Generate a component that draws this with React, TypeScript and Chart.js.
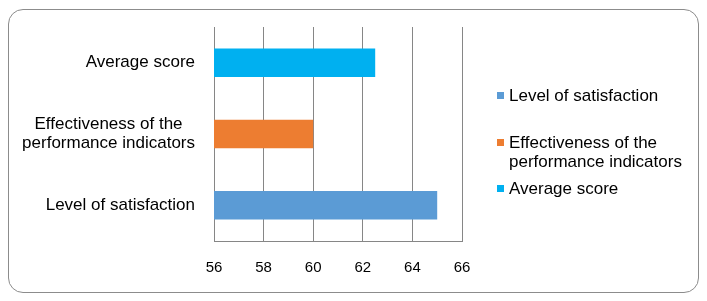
import React, { useEffect, useRef } from "react";
import { Chart, registerables } from "chart.js";

Chart.register(...registerables);

const categories: string[][] = [
  ["Level of satisfaction"],
  ["Effectiveness of the", "performance indicators"],
  ["Average score"],
];
const values: number[] = [65, 60, 62.5];
const colors: string[] = ["#5B9BD5", "#ED7D31", "#00B0F0"];
const xTicks: number[] = [56, 58, 60, 62, 64, 66];

const FONT = "'Liberation Sans', Arial, sans-serif";

const customText = {
  id: "customText",
  afterDraw(chart: any) {
    const ctx = chart.ctx;
    const yScale = chart.scales.y;
    ctx.save();
    ctx.fillStyle = "#000";
    ctx.font = `17px ${FONT}`;
    ctx.textBaseline = "middle";
    ctx.textAlign = "center";
    const lh = 19.5;
    // y category labels: block right-aligned, lines centered within block
    const labels = chart.data.labels as string[][];
    labels.forEach((lines, i) => {
      const yc = yScale.getPixelForTick(i);
      const w = Math.max(...lines.map((l) => ctx.measureText(l).width));
      const cx = 195 - w / 2;
      const y0 = yc - ((lines.length - 1) * lh) / 2;
      lines.forEach((l, j) => ctx.fillText(l, cx, y0 + j * lh));
    });
    // legend
    ctx.textAlign = "left";
    const legendY = [96, 143, 189];
    labels.forEach((lines, i) => {
      const y = legendY[i];
      ctx.fillStyle = colors[i];
      ctx.fillRect(497, y - 4, 7, 7);
      ctx.fillStyle = "#000";
      lines.forEach((l, j) => ctx.fillText(l, 509, y + j * lh));
    });
    ctx.restore();
  },
};

export default function App() {
  const ref = useRef<HTMLCanvasElement | null>(null);
  useEffect(() => {
    if (!ref.current) return;
    const chart = new Chart(ref.current, {
      type: "bar",
      data: {
        labels: categories as any,
        datasets: [
          {
            data: values,
            backgroundColor: colors,
            borderWidth: 0,
            categoryPercentage: 1,
            barPercentage: 0.4,
          },
        ],
      },
      options: {
        indexAxis: "y",
        animation: false,
        responsive: false,
        devicePixelRatio: 1,
        layout: { padding: { left: 0, right: 245, top: 27, bottom: 0 } },
        plugins: { legend: { display: false }, tooltip: { enabled: false } },
        scales: {
          x: {
            min: xTicks[0],
            max: xTicks[xTicks.length - 1],
            afterBuildTicks: (scale: any) => {
              scale.ticks = xTicks.map((v) => ({ value: v }));
            },
            afterFit: (scale: any) => {
              scale.height = 60;
            },
            grid: { color: "#868686", lineWidth: 1, drawTicks: false },
            border: { display: true, color: "#868686", width: 1 },
            ticks: {
              color: "#000",
              padding: 18,
              font: { family: FONT, size: 15 },
            },
          },
          y: {
            reverse: true,
            afterFit: (scale: any) => {
              scale.width = 214;
            },
            grid: { display: false, drawTicks: false },
            border: { display: true, color: "#868686", width: 1 },
            ticks: { display: false },
          },
        },
      },
      plugins: [customText],
    });
    return () => chart.destroy();
  }, []);
  return (
    <div
      style={{
        position: "fixed",
        left: 0,
        top: 0,
        width: 707,
        height: 301,
        background: "#fff",
      }}
    >
      <div
        style={{
          position: "absolute",
          left: 8,
          top: 9,
          width: 691,
          height: 284,
          border: "1px solid #8c8c8c",
          borderRadius: 15,
          boxSizing: "border-box",
        }}
      />
      <canvas
        ref={ref}
        width={707}
        height={301}
        style={{ position: "absolute", left: 0, top: 0 }}
      />
    </div>
  );
}
